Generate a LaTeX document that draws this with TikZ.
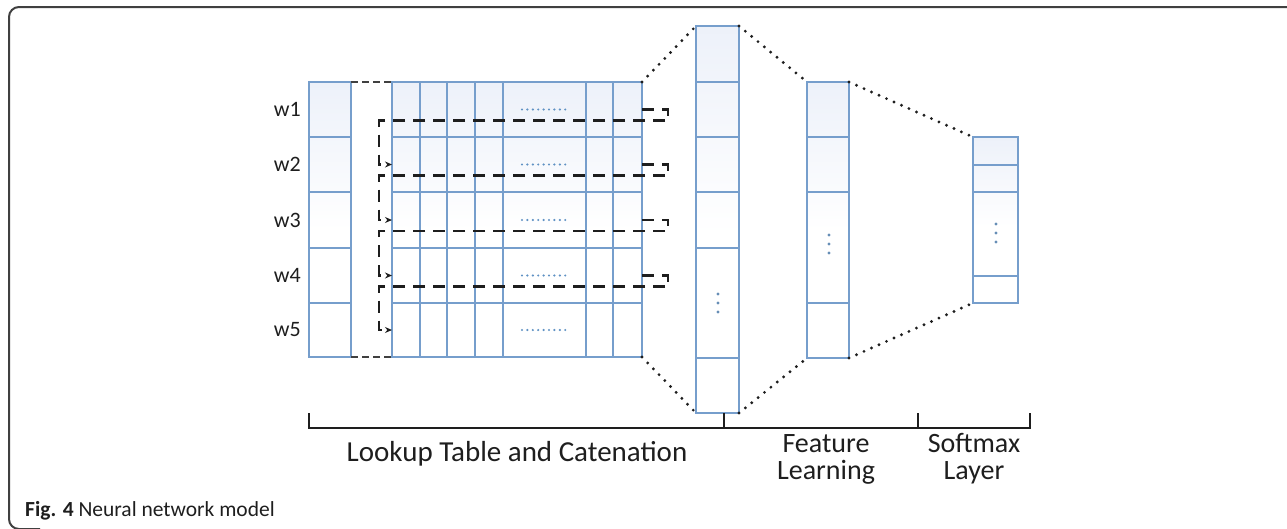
\documentclass[tikz,border=0pt]{standalone}
\usepackage{fontspec}
\setmainfont{Carlito}
\usetikzlibrary{arrows.meta,calc}
\definecolor{cellblue}{RGB}{220,228,244}
\definecolor{gridline}{RGB}{118,158,204}
\definecolor{dotblue}{RGB}{96,146,196}
\definecolor{ink}{RGB}{30,30,30}
% light blue at the top of a cell stack, fading to white half way down
\pgfdeclareverticalshading{fade}{100bp}{color(0bp)=(white); color(48bp)=(white); color(100bp)=(cellblue)}
\begin{document}
\begin{tikzpicture}[x=1pt,y=-1pt,
  cellbox/.style={draw=gridline, line width=1.7pt, shading=fade, inner sep=0pt, outer sep=0pt},
  cellline/.style={draw=gridline, line width=1.7pt},
  hdots/.style={draw=dotblue, line width=2.4pt, line cap=round, dash pattern=on 0pt off 5.4pt},
  vdot/.style={fill=dotblue!80!gray, circle, inner sep=0pt, minimum size=3.2pt},
  link/.style={draw=ink, line width=3.2pt, line cap=round, dash pattern=on 0pt off 8.2pt},
  cat/.style={draw=ink, line width=2.6pt, dash pattern=on 12pt off 8pt, -{Stealth[length=7pt,width=6pt]}},
  gapline/.style={draw=ink!85, line width=2pt, dash pattern=on 7pt off 4pt},
  brace/.style={draw=ink, line width=2.4pt},
  lab/.style={font=\fontsize{29}{25}\selectfont, inner sep=0pt, text=ink},
  stage/.style={font=\fontsize{28}{25}\selectfont, inner sep=0pt, text=ink, anchor=base},
  word/.style={font=\fontsize{22}{26}\selectfont, anchor=east, inner sep=0pt, text=ink}]
\useasboundingbox (0,0) rectangle (1287,528);
\clip (0,0) rectangle (1287,528);

% outer frame
\draw[line width=2pt, black!75, rounded corners=10pt] (1300,7) -- (9,7) -- (9,529) -- (40,529);

% lookup table: word column and embedding grid
\node[cellbox, minimum width=42pt, minimum height=275pt] (col) at (330,219.5) {};
\node[cellbox, minimum width=250pt, minimum height=275pt] (grid) at (517,219.5) {};
\foreach \y in {137,192,248,303} {
  \draw[cellline] (309,\y) -- (351,\y);
  \draw[cellline] (392,\y) -- (642,\y);
}
\foreach \x in {420,447,475,503,586,613}
  \draw[cellline] (\x,82) -- (\x,357);
\draw[gapline] (col.north east) -- (grid.north west);
\draw[gapline] (col.south east) -- (grid.south west);

% row labels, row ends and elided columns
\foreach \i/\yc in {1/109.5,2/164.5,3/220,4/275.5,5/330} {
  \node[word] (w\i) at (301,\yc) {w\i};
  \coordinate (r\i s) at (392,\yc);
  \coordinate (r\i e) at (642,\yc);
  \draw[hdots] (522,\yc) -- (570,\yc);
}

% concatenation: end of each row feeds the start of the next
\foreach \i/\j in {1/2,2/3,3/4,4/5}
  \draw[cat] (r\i e) -- ++(26,0) -- ++(0,11) -| ($(r\j s)+(-13,0)$) -- (r\j s);

% concatenated vector
\node[cellbox, minimum width=43pt, minimum height=387pt] (vec1) at (717.5,219.5) {};
\foreach \y in {82,137,192,248,358}
  \draw[cellline] (696,\y) -- (739,\y);
\foreach \y in {294,303,312} \node[vdot] at (718,\y) {};

% feature learning layer
\node[cellbox, minimum width=42pt, minimum height=276pt] (vec2) at (828,220) {};
\foreach \y in {137,192,303}
  \draw[cellline] (807,\y) -- (849,\y);
\foreach \y in {235,244,253} \node[vdot] at (829,\y) {};

% softmax layer
\node[cellbox, minimum width=45pt, minimum height=166pt] (vec3) at (995.5,220) {};
\foreach \y in {165,192,276}
  \draw[cellline] (973,\y) -- (1018,\y);
\foreach \y in {224,233,242} \node[vdot] at (996,\y) {};

% projections between stages
\draw[link] (grid.north east) -- (vec1.north west);
\draw[link] (grid.south east) -- (vec1.south west);
\draw[link] (vec1.north east) -- (vec2.north west);
\draw[link] (vec1.south east) -- (vec2.south west);
\draw[link] (vec2.north east) -- (vec3.north west);
\draw[link] (vec2.south east) -- (vec3.south west);

% stage brackets
\draw[brace] (309,413) -- (309,428) -- (1030,428) -- (1030,413);
\draw[brace] (724,413) -- (724,428);
\draw[brace] (918,413) -- (918,428);

\node[lab, anchor=base] (lt) at (517,461) {Lookup Table and Catenation};
\node[stage] (fl1) at (826,452) {Feature};
\node[stage] (fl2) at (826,479) {Learning};
\node[stage] (sl1) at (974,452) {Softmax};
\node[stage] (sl2) at (974,479) {Layer};

% caption
\node[anchor=base west, inner sep=0pt, font=\fontsize{21.5}{24}\selectfont, text=ink] (cap) at (25,516) {\textbf{Fig. 4} Neural network model};
\end{tikzpicture}
\end{document}
